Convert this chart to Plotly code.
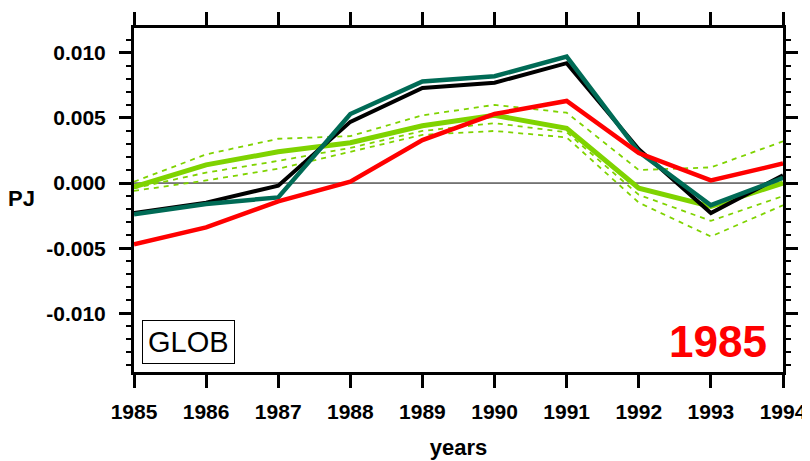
import plotly.graph_objects as go

years = [1985, 1986, 1987, 1988, 1989, 1990, 1991, 1992, 1993, 1994]

black_vals = [-0.0023, -0.0015, -0.0002, 0.0047, 0.0073, 0.0077, 0.0092, 0.0026, -0.0023, 0.0006]
teal_vals = [-0.0024, -0.0016, -0.0011, 0.0053, 0.0078, 0.0082, 0.0097, 0.0024, -0.0017, 0.0004]
red_vals = [-0.0047, -0.0034, -0.0014, 0.0001, 0.0033, 0.0053, 0.0063, 0.0023, 0.0002, 0.0015]
green_vals = [-0.0003, 0.0014, 0.0024, 0.0031, 0.0044, 0.0052, 0.0042, -0.0004, -0.0018, 0.0000]
green_upper = [0.0001, 0.0022, 0.0034, 0.0036, 0.0052, 0.0060, 0.0054, 0.0010, 0.0012, 0.0032]
green_lower = [-0.0006, 0.0002, 0.0011, 0.0024, 0.0037, 0.0040, 0.0035, -0.0015, -0.0041, -0.0017]
green_lower2 = [-0.0004, 0.0008, 0.0017, 0.0027, 0.0040, 0.0046, 0.0039, -0.0009, -0.0029, -0.0010]

y_ticks = [-0.010, -0.005, 0.000, 0.005, 0.010]
y_tick_text = ["-0.010", "-0.005", "0.000", "0.005", "0.010"]

GREEN = "#7fd300"
TEAL = "#006b56"
RED = "#ff0000"

fig = go.Figure()

for vals in (green_upper, green_lower, green_lower2):
    fig.add_trace(go.Scatter(x=years, y=vals, mode="lines",
                             line=dict(color=GREEN, width=1.8, dash="5px,5px"),
                             showlegend=False, hoverinfo="skip"))

fig.add_trace(go.Scatter(x=years, y=green_vals, mode="lines",
                         line=dict(color=GREEN, width=5), showlegend=False))
fig.add_trace(go.Scatter(x=years, y=black_vals, mode="lines",
                         line=dict(color="black", width=4), showlegend=False))
fig.add_trace(go.Scatter(x=years, y=teal_vals, mode="lines",
                         line=dict(color=TEAL, width=4.5), showlegend=False))
fig.add_trace(go.Scatter(x=years, y=red_vals, mode="lines",
                         line=dict(color=RED, width=4.5), showlegend=False))

fig.add_shape(type="line", xref="paper", x0=0, x1=1, yref="y", y0=0, y1=0,
              line=dict(color="black", width=1), layer="below")

tickfont = dict(family="Liberation Sans, Arial, sans-serif", size=21, color="black", weight="bold")

fig.update_layout(
    template="none",
    width=802, height=453,
    margin=dict(l=126, r=27, t=20, b=89, autoexpand=False),
    paper_bgcolor="white", plot_bgcolor="white",
    font=dict(family="Liberation Sans, Arial, sans-serif", color="black"),
    xaxis=dict(
        range=[1985, 1994], tickmode="array", tickvals=years,
        ticktext=[str(y) for y in years], automargin=False,
        ticks="outside", ticklen=13, tickwidth=3, tickcolor="black",
        showline=True, linewidth=3, linecolor="black", mirror="allticks",
        showgrid=False, zeroline=False, tickfont=tickfont, ticklabelstandoff=6,
        title=dict(text="years", font=dict(size=22, weight="bold"), standoff=18),
    ),
    yaxis=dict(
        range=[-0.0145, 0.0119], tickmode="array", tickvals=y_ticks,
        ticktext=y_tick_text, automargin=False,
        ticks="outside", ticklen=12, tickwidth=3, tickcolor="black",
        showline=True, linewidth=3, linecolor="black", mirror="allticks",
        showgrid=False, zeroline=False, tickfont=tickfont, ticklabelstandoff=9,
        minor=dict(ticks="outside", dtick=0.001, tick0=0, ticklen=5,
                   tickwidth=2, tickcolor="black", showgrid=False),
    ),
    annotations=[
        dict(text="PJ", xref="paper", yref="paper", x=-0.149, y=0.503,
             xanchor="right", yanchor="middle", showarrow=False,
             font=dict(size=22, weight="bold")),
        dict(text="GLOB", xref="paper", yref="paper", x=0.0125, y=0.022,
             xanchor="left", yanchor="bottom", showarrow=False,
             font=dict(size=29), bordercolor="black", borderwidth=1,
             borderpad=5, bgcolor="white"),
        dict(text="<b>1985</b>", xref="paper", yref="paper", x=0.978, y=0.09,
             xanchor="right", yanchor="middle", showarrow=False,
             font=dict(size=44, color=RED)),
    ],
)

fig.write_html("out.html")
